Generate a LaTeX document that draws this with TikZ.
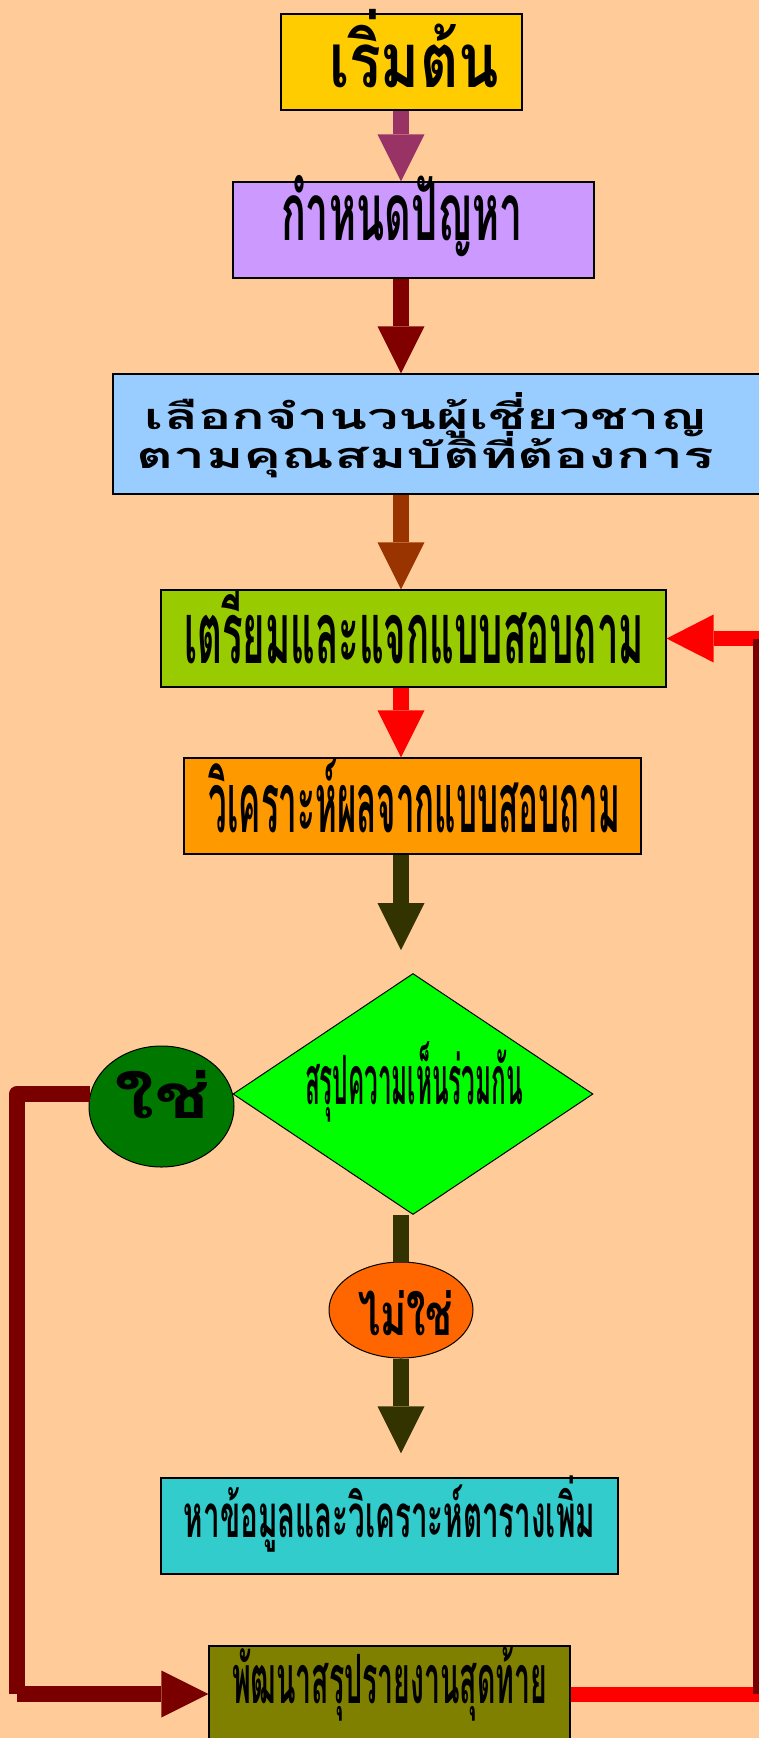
\documentclass[tikz,border=0pt]{standalone}
\usepackage{fontspec}
\usepackage{graphicx}
\newfontfamily\thai[Script=Thai]{Loma}
\usetikzlibrary{arrows.meta,shapes.geometric,calc}
\newcommand\fit[3]{\resizebox{#1}{\height}{\fontsize{#2}{#2}\selectfont\thai\bfseries #3}}
\definecolor{bg}{HTML}{FFCC99}
\definecolor{cStart}{HTML}{FFCC00}
\definecolor{cProb}{HTML}{CC99FF}
\definecolor{cSel}{HTML}{99CCFF}
\definecolor{cPrep}{HTML}{99CC00}
\definecolor{cAnal}{HTML}{FF9900}
\definecolor{cDec}{HTML}{00FF00}
\definecolor{cYes}{HTML}{007800}
\definecolor{cNo}{HTML}{FF6600}
\definecolor{cMore}{HTML}{33CCCC}
\definecolor{cFinal}{HTML}{808000}
\definecolor{cA1}{HTML}{993366}
\definecolor{cA2}{HTML}{800000}
\definecolor{cA3}{HTML}{993300}
\definecolor{cA4}{HTML}{FF0000}
\definecolor{cA5}{HTML}{333300}
\definecolor{cLoop}{HTML}{7A0000}
\begin{document}
\begin{tikzpicture}[x=1pt,y=-1pt,
  box/.style={draw=black, line width=1.2pt, inner sep=0pt, rectangle},
  txt/.style={inner sep=0pt, anchor=base, text=black},
  flow/.style={line width=16pt, -{Triangle[width=47pt,length=47pt,line width=0pt]}},
  stem/.style={line width=16pt},
  ret/.style={line width=15pt, -{Triangle[width=48pt,length=47pt,line width=0pt]}}]
\useasboundingbox (0,0) rectangle (759,1738);
\clip (0,0) rectangle (759,1738);
\fill[bg] (0,0) rectangle (759,1738);

% boxes
\node[box, fill=cStart, minimum width=241pt, minimum height=96pt] (start) at (401.5,62) {};
\node[box, fill=cProb, minimum width=361pt, minimum height=96pt] (prob) at (413.5,230) {};
\node[box, fill=cSel, minimum width=687pt, minimum height=120pt] (sel) at (456.5,434) {};
\node[box, fill=cPrep, minimum width=505pt, minimum height=97pt] (prep) at (413.5,638.5) {};
\node[box, fill=cAnal, minimum width=457pt, minimum height=96pt] (anal) at (412.5,806) {};
\node[diamond, draw=black, line width=1pt, fill=cDec, inner sep=0pt, minimum width=360pt, minimum height=241pt] (dec) at (413,1094) {};
\node[ellipse, draw=black, line width=1pt, fill=cYes, inner sep=0pt, minimum width=145pt, minimum height=121pt] (yes) at (161.5,1106.5) {};
\node[ellipse, draw=black, line width=1pt, fill=cNo, inner sep=0pt, minimum width=144pt, minimum height=96pt] (no) at (401,1310) {};
\node[box, fill=cMore, minimum width=457pt, minimum height=96pt] (more) at (389.5,1526) {};
\node[box, fill=cFinal, minimum width=361pt, minimum height=96pt] (final) at (389.5,1694) {};

% texts
\node[txt] (tStart) at (414,87) {\fit{170pt}{76}{เริ่มต้น}};
\node[txt] (tProb) at (402,240) {\fit{242pt}{80}{กำหนดปัญหา}};
\node[txt] (tSel1) at (426,429) {\fit{562pt}{36}{เลือกจำนวนผู้เชี่ยวชาญ}};
\node[txt] (tSel2) at (425.5,468) {\fit{577pt}{36}{ตามคุณสมบัติที่ต้องการ}};
\node[txt] (tPrep) at (414,663) {\fit{460pt}{86}{เตรียมและแจกแบบสอบถาม}};
\node[txt] (tAnal) at (414.5,832) {\fit{411pt}{84}{วิเคราะห์ผลจากแบบสอบถาม}};
\node[txt] (tDec) at (414,1104) {\fit{218pt}{68}{สรุปความเห็นร่วมกัน}};
\node[txt] (tYes) at (162,1118) {\fit{96pt}{62}{ใช่}};
\node[txt] (tNo) at (405.5,1335) {\fit{95pt}{58}{ไม่ใช่}};
\node[txt] (tMore) at (389.5,1537) {\fit{411pt}{60}{หาข้อมูลและวิเคราะห์ตารางเพิ่ม}};
\node[txt] (tFinal) at (389.5,1703) {\fit{315pt}{68}{พัฒนาสรุปรายงานสุดท้าย}};

% helper coordinates
\coordinate (ax) at (401,0);
\coordinate (a5end) at ([yshift=23pt]dec.north);
\coordinate (a6end) at ([yshift=24pt]more.north);
\coordinate (lc) at (17,0);
\coordinate (lb) at (17,1694);
\coordinate (rx) at (756,0);
\coordinate (far) at (780,0);

% main flow
\draw[flow, cA1] (start.south -| ax) -- (prob.north -| ax);
\draw[flow, cA2] (prob.south -| ax) -- (sel.north -| ax);
\draw[flow, cA3] (sel.south -| ax) -- (prep.north -| ax);
\draw[flow, cA4] (prep.south -| ax) -- (anal.north -| ax);
\draw[flow, cA5] (anal.south -| ax) -- (a5end -| ax);
\draw[stem, cA5] (dec.south -| ax) -- (no.north -| ax);
\draw[flow, cA5] (no.south -| ax) -- (a6end -| ax);

% yes loop
\draw[stem, cLoop, line join=round] (yes.170) -- (yes.170 -| lc) -- (lb);
\draw[flow, cLoop] (lb) -- (final.west);

% return loop
\draw[line width=15pt, cA4] (final.east) -- (final.east -| far);
\draw[ret, cA4] (prep.east -| far) -- (prep.east);
\draw[line width=7pt, cLoop] (prep.east -| rx) -- (final.east -| rx);
\end{tikzpicture}
\end{document}
